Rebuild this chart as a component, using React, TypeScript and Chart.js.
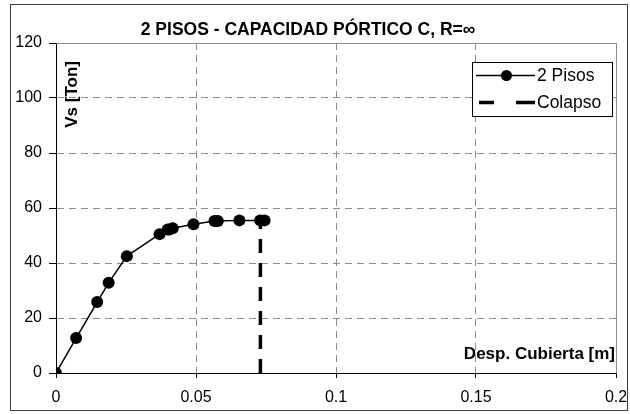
import React, { useEffect, useRef } from "react";
import { Chart, registerables } from "chart.js";

Chart.register(...registerables);

const TITLE = "2 PISOS - CAPACIDAD PÓRTICO C, R=∞";
const X_TITLE = "Desp. Cubierta [m]";
const Y_TITLE = "Vs [Ton]";
const SERIES_LABEL = "2 Pisos";
const COLLAPSE_LABEL = "Colapso";

const despX = [0, 0.0072, 0.0147, 0.0188, 0.0253, 0.037, 0.0399, 0.0405, 0.0417, 0.0491, 0.0566, 0.0578, 0.0655, 0.0729, 0.0745];
const vsY = [0, 12.7, 25.8, 32.8, 42.5, 50.5, 52.2, 52.2, 52.6, 54.1, 55.3, 55.3, 55.5, 55.5, 55.5];
const collapseX = [0.073, 0.073];
const collapseY = [0, 55.5];

const X_MIN = 0;
const X_MAX = 0.2;
const X_STEP = 0.05;
const Y_MIN = 0;
const Y_MAX = 120;
const Y_STEP = 20;

const FONT = "'Liberation Sans', Arial, sans-serif";
const GRID = "#8c8c8c";

const framePlugin = {
  id: "frameAndLabels",
  beforeDatasetsDraw(chart: any) {
    const { ctx, chartArea } = chart;
    const { left, right, top, bottom } = chartArea;
    ctx.save();
    ctx.strokeStyle = GRID;
    ctx.lineWidth = 1;
    ctx.setLineDash([]);
    ctx.beginPath();
    ctx.moveTo(Math.round(left) + 0.5, Math.round(top) + 0.5);
    ctx.lineTo(Math.round(right) + 0.5, Math.round(top) + 0.5);
    ctx.lineTo(Math.round(right) + 0.5, Math.round(bottom) + 0.5);
    ctx.stroke();
    ctx.restore();
  },
  afterDraw(chart: any) {
    const { ctx, chartArea } = chart;
    const { left, right, top, bottom } = chartArea;
    ctx.save();
    // outer frame
    ctx.strokeStyle = "#404040";
    ctx.lineWidth = 1;
    ctx.strokeRect(10.5, 4.5, 617, 406);

    // axis titles
    ctx.fillStyle = "#000";
    ctx.font = `bold 17px ${FONT}`;
    ctx.textAlign = "right";
    ctx.textBaseline = "middle";
    ctx.fillText(X_TITLE, right - 1, bottom - 19);

    ctx.save();
    ctx.translate(left + 16, top + 18);
    ctx.rotate(-Math.PI / 2);
    ctx.textAlign = "right";
    ctx.textBaseline = "middle";
    ctx.fillText(Y_TITLE, 0, 0);
    ctx.restore();

    // legend
    const bx = 472.5, by = 62.5, bw = 140, bh = 54;
    ctx.fillStyle = "#fff";
    ctx.fillRect(bx, by, bw, bh);
    ctx.strokeStyle = "#000";
    ctx.lineWidth = 1;
    ctx.strokeRect(bx, by, bw, bh);

    const y1 = 75.5;
    ctx.beginPath();
    ctx.lineWidth = 1.5;
    ctx.moveTo(476, y1);
    ctx.lineTo(535, y1);
    ctx.stroke();
    ctx.beginPath();
    ctx.fillStyle = "#000";
    ctx.arc(506.5, y1, 5.5, 0, Math.PI * 2);
    ctx.fill();

    const y2 = 102.5;
    ctx.beginPath();
    ctx.lineWidth = 3.5;
    ctx.moveTo(479, y2);
    ctx.lineTo(494, y2);
    ctx.moveTo(516, y2);
    ctx.lineTo(535, y2);
    ctx.stroke();

    ctx.font = `17.5px ${FONT}`;
    ctx.textAlign = "left";
    ctx.textBaseline = "middle";
    ctx.fillStyle = "#000";
    ctx.fillText(SERIES_LABEL, 537, y1 + 1);
    ctx.fillText(COLLAPSE_LABEL, 537, y2 + 1);
    ctx.restore();
  },
};

export default function App() {
  const ref = useRef<HTMLCanvasElement | null>(null);

  useEffect(() => {
    document.body.style.margin = "0";
    const canvas = ref.current;
    if (!canvas) return;
    const chart = new Chart(canvas, {
      type: "scatter",
      data: {
        datasets: [
          {
            label: SERIES_LABEL,
            data: despX.map((x, i) => ({ x, y: vsY[i] })),
            showLine: true,
            borderColor: "#000",
            backgroundColor: "#000",
            borderWidth: 1.5,
            pointRadius: 6,
            pointBorderWidth: 0,
            pointBackgroundColor: "#000",
            tension: 0,
            order: 1,
          },
          {
            label: COLLAPSE_LABEL,
            data: collapseX.map((x, i) => ({ x, y: collapseY[i] })),
            showLine: true,
            borderColor: "#000",
            borderWidth: 3.5,
            borderDash: [14, 10],
            pointRadius: 0,
            order: 2,
          },
        ],
      },
      options: {
        animation: false,
        responsive: false,
        maintainAspectRatio: false,
        layout: { padding: { left: 0, right: 14, top: 0, bottom: 0 } },
        plugins: {
          legend: { display: false },
          tooltip: { enabled: false },
          title: {
            display: true,
            text: TITLE,
            color: "#000",
            font: { family: FONT, size: 17.5, weight: "bold" },
            padding: { top: 20, bottom: 2 },
          },
        },
        scales: {
          x: {
            type: "linear",
            min: X_MIN,
            max: X_MAX,
            afterFit: (s: any) => {
              s.height = 41;
              s.paddingRight = 0;
              s.paddingLeft = 0;
            },
            ticks: {
              stepSize: X_STEP,
              color: "#000",
              font: { family: FONT, size: 16 },
              padding: 10,
              maxRotation: 0,
              callback: (v: any) => String(+Number(v).toFixed(2)),
            },
            grid: {
              color: GRID,
              lineWidth: 1,
              tickLength: 5,
              tickColor: "#000",
            },
            border: { display: true, color: "#000", width: 1, dash: [7, 5] },
          },
          y: {
            type: "linear",
            min: Y_MIN,
            max: Y_MAX,
            afterFit: (s: any) => {
              s.width = 56;
              s.paddingTop = 0;
              s.paddingBottom = 0;
            },
            ticks: {
              stepSize: Y_STEP,
              color: "#000",
              font: { family: FONT, size: 16 },
              padding: 7,
            },
            grid: {
              color: GRID,
              lineWidth: 1,
              tickLength: 7,
              tickColor: "#000",
            },
            border: { display: true, color: "#000", width: 1, dash: [7, 5] },
          },
        },
      },
      plugins: [framePlugin],
    });
    return () => chart.destroy();
  }, []);

  return (
    <div style={{ width: 630, height: 414, position: "relative" }}>
      <canvas ref={ref} width={630} height={414} style={{ display: "block", width: 630, height: 414 }} />
    </div>
  );
}
